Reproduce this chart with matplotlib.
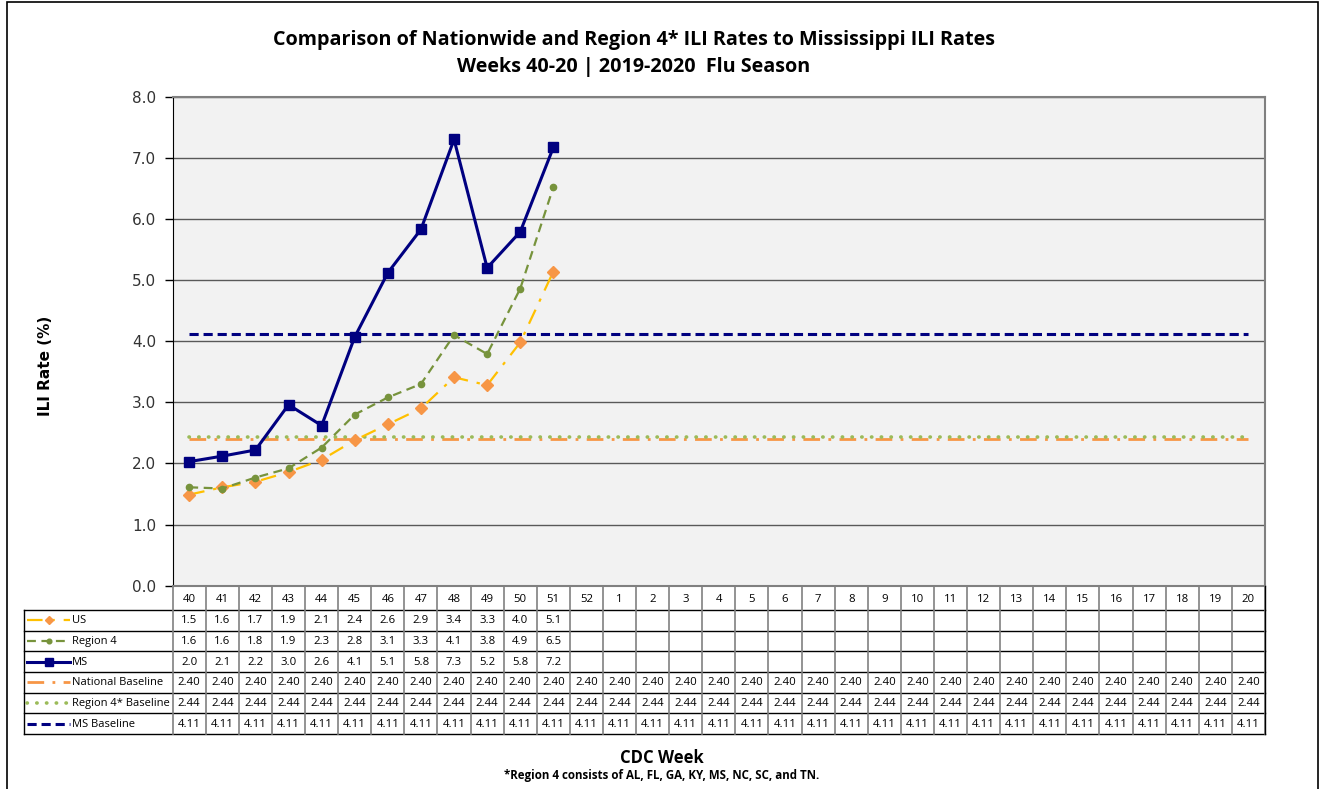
"""
ILI rates: nationwide and Region 4 compared with Mississippi, 2019-2020 season.
Line chart with a data table underneath (Excel style).
"""

import matplotlib.pyplot as plt
from matplotlib.patches import Rectangle

W, H = 1322, 789

weeks = [40, 41, 42, 43, 44, 45, 46, 47, 48, 49, 50, 51, 52,
         1, 2, 3, 4, 5, 6, 7, 8, 9, 10, 11, 12, 13, 14, 15, 16, 17, 18, 19, 20]
us = [1.49, 1.61, 1.70, 1.86, 2.06, 2.38, 2.64, 2.90, 3.41, 3.28, 3.98, 5.14]
region4 = [1.61, 1.59, 1.77, 1.92, 2.26, 2.80, 3.08, 3.30, 4.10, 3.79, 4.86, 6.52]
ms = [2.03, 2.12, 2.22, 2.96, 2.62, 4.07, 5.12, 5.83, 7.30, 5.20, 5.79, 7.17]
national_baseline = [2.40] * len(weeks)
region4_baseline = [2.44] * len(weeks)
ms_baseline = [4.11] * len(weeks)

NAVY = "#000080"
GOLD = "#FFC000"
ORANGE = "#F79646"
GREEN = "#77933C"
LGREEN = "#9BBB59"
TFONT = "Open Sans"

series = [
    # label, values, fmt, style kwargs
    ("US", us, "{:.1f}", dict(color=GOLD, lw=1.6, ls=(0, (7, 4, 1.5, 4)),
                             marker="D", ms=6, mfc=ORANGE, mec=ORANGE)),
    ("Region 4", region4, "{:.1f}", dict(color=GREEN, lw=1.6, ls=(0, (4, 2.5)),
                                         marker="o", ms=4.5, mfc=GREEN, mec=GREEN)),
    ("MS", ms, "{:.1f}", dict(color=NAVY, lw=2.2, ls="-",
                             marker="s", ms=7, mfc=NAVY, mec=NAVY)),
    ("National Baseline", national_baseline, "{:.2f}",
     dict(color=ORANGE, lw=2.0, ls=(0, (6, 3, 1, 3)))),
    ("Region 4* Baseline", region4_baseline, "{:.2f}",
     dict(color=LGREEN, lw=2.6, ls=(0, (0.1, 2.6)), dash_capstyle="round")),
    ("MS Baseline", ms_baseline, "{:.2f}", dict(color=NAVY, lw=2.2, ls=(0, (3, 1.6)))),
]

fig = plt.figure(figsize=(W / 100, H / 100), dpi=100)

# ------------------------------------------------------------------ plot area
ax_l, ax_r, ax_t, ax_b = 172.7, 1265, 96.7, 585.7
ax = fig.add_axes([ax_l / W, 1 - ax_b / H, (ax_r - ax_l) / W, (ax_b - ax_t) / H])
ax.set_facecolor("#F2F2F2")
ax.set_xlim(-0.5, len(weeks) - 0.5)
ax.set_ylim(0, 8)
ax.set_yticks(range(9))
ax.set_yticklabels([f"{v:.1f}" for v in range(9)], fontsize=11, color="#333333")
ax.set_xticks([])
ax.tick_params(axis="y", direction="out", length=6, width=1, pad=6)
ax.yaxis.grid(True, color="#595959", lw=1)
ax.set_axisbelow(True)
for side in ["top", "right", "bottom"]:
    ax.spines[side].set_color("#808080")
    ax.spines[side].set_linewidth(1.5)
ax.spines["left"].set_color("black")

z = {"US": 5, "Region 4": 6, "MS": 7, "National Baseline": 3,
     "Region 4* Baseline": 4, "MS Baseline": 3}
for label, vals, _, kw in series:
    ax.plot(range(len(vals)), vals, zorder=z[label], **kw)

fig.text(45 / W, 1 - 366 / H, "ILI Rate (%)", rotation=90, ha="center", va="center",
         fontsize=11, fontweight="bold")

# ------------------------------------------------------------------ data table
tab_l, tab_t, tab_b = 24, 586, 734
col_w = (ax_r - ax_l) / len(weeks)
label_w = (ax_l - tab_l) / col_w
tax = fig.add_axes([tab_l / W, 1 - tab_b / H, (ax_r - tab_l) / W, (tab_b - tab_t) / H])
tax.axis("off")
x0 = -0.5 - label_w
tax.set_xlim(x0, len(weeks) - 0.5)
tab_h = tab_b - tab_t
tax.set_ylim(tab_h, 0)
head_h = 24
row_h = (tab_h - head_h) / len(series)
row_edges = [0, head_h] + [head_h + row_h * (k + 1) for k in range(len(series))]

# grid lines
for y in row_edges[1:]:
    tax.plot([x0, len(weeks) - 0.5], [y, y], color="black", lw=1, clip_on=False)
for i in range(len(weeks) + 1):
    tax.plot([i - 0.5, i - 0.5], [0, tab_h], color="#808080", lw=1.2, clip_on=False)
tax.plot([x0, x0], [head_h, tab_h], color="black", lw=1, clip_on=False)
tax.plot([len(weeks) - 0.5] * 2, [0, tab_h], color="black", lw=1, clip_on=False)

for i, wk in enumerate(weeks):
    tax.text(i, head_h / 2 + 1, str(wk), ha="center", va="center",
             fontsize=8.2, family=TFONT)

for r, (label, vals, fmt, kw) in enumerate(series):
    yc = head_h + row_h * (r + 0.5)
    for i, v in enumerate(vals):
        tax.text(i, yc + 0.5, fmt.format(v), ha="center", va="center",
                 fontsize=8.2, family=TFONT)
    # legend sample
    sx = [x0 + 3 / col_w, x0 + 46 / col_w]
    line_kw = {k: v for k, v in kw.items() if k not in ("marker", "ms", "mfc", "mec")}
    tax.plot(sx, [yc, yc], clip_on=False, **line_kw)
    if "marker" in kw:
        tax.plot([(sx[0] + sx[1]) / 2], [yc], ls="none", marker=kw["marker"],
                 ms=kw["ms"] * 0.75, mfc=kw["mfc"], mec=kw["mec"], clip_on=False)
    tax.text(x0 + 48 / col_w, yc + 0.5, label, ha="left", va="center",
             fontsize=8, family=TFONT)

# ------------------------------------------------------------------ titles
fig.text(634 / W, 1 - 40 / H,
         "Comparison of Nationwide and Region 4* ILI Rates to Mississippi ILI Rates",
         ha="center", va="center", fontsize=14.2, fontweight="bold", family="Open Sans")
fig.text(634 / W, 1 - 67 / H, "Weeks 40-20 | 2019-2020  Flu Season",
         ha="center", va="center", fontsize=14.2, fontweight="bold", family="Open Sans")
fig.text(662 / W, 1 - 758 / H, "CDC Week", ha="center", va="center",
         fontsize=12, fontweight="bold", family="Open Sans")
fig.text(662 / W, 1 - 776 / H, "*Region 4 consists of AL, FL, GA, KY, MS, NC, SC, and TN.",
         ha="center", va="center", fontsize=8.3, fontweight="bold", family="Open Sans")

fig.patches.append(Rectangle((7 / W, -0.02), (1318 - 7) / W, 1 - 2 / H + 0.02,
                             transform=fig.transFigure, fill=False, ec="black", lw=1.2))

fig.savefig("out.png", dpi=100)
